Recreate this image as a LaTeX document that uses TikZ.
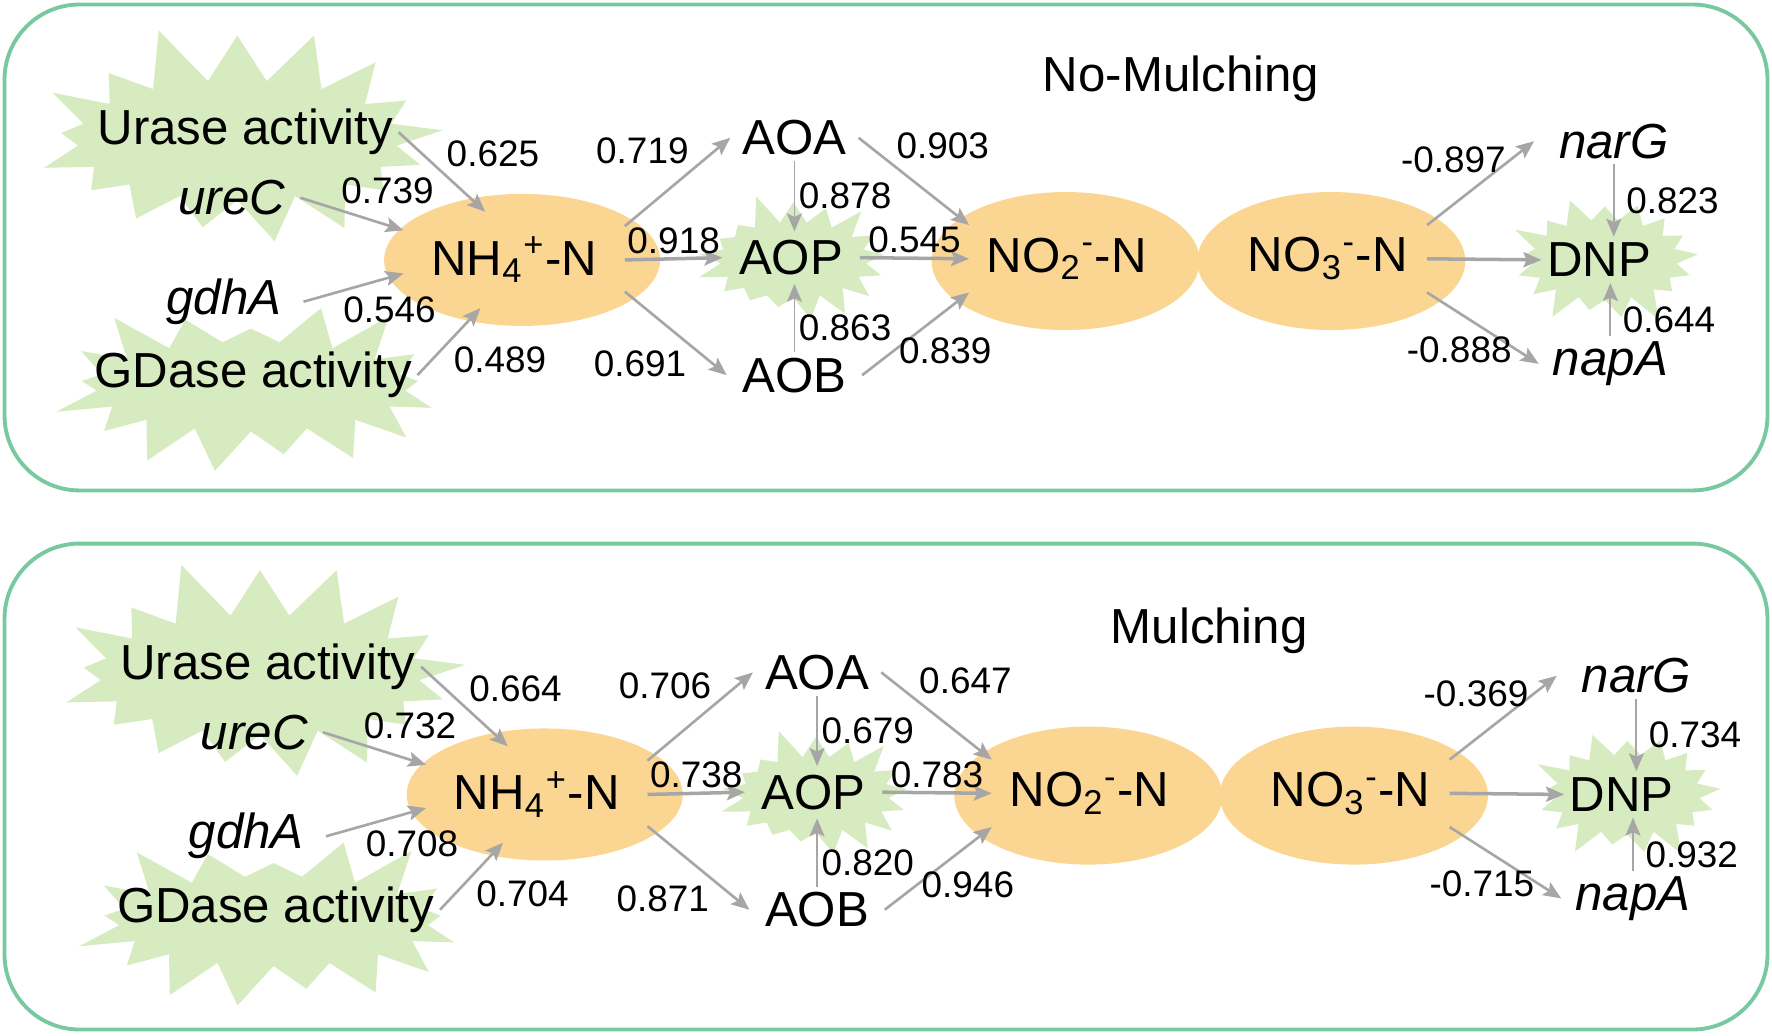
\documentclass[tikz,border=0pt]{standalone}
\usepackage{fontspec}
\setmainfont{Liberation Sans}
\usepackage{tikz}
\usetikzlibrary{arrows.meta,shapes.geometric,shapes.symbols}
\definecolor{nitGreen}{HTML}{D6ECC0}
\definecolor{nitOrange}{HTML}{FBD592}
\definecolor{nitFrame}{HTML}{78C8A0}
\definecolor{nitGrey}{HTML}{A6A6A6}
% shapes and names of one panel; #1 title position, #2 title
\newcommand{\nitronodes}[2]{%
  \node[burst, minimum width=44mm, minimum height=24mm,
        starburst point height=6mm, random starburst=11] (urase-bg) at (210,124) {};
  \node[burst, minimum width=41mm, minimum height=19mm,
        starburst point height=5mm, random starburst=23] (gdase-bg) at (222,342) {};
  \node[burst, minimum width=21mm, minimum height=14mm,
        starburst point height=3.2mm, random starburst=5] (aop-bg) at (702,230) {};
  \node[burst, minimum width=20.5mm, minimum height=14mm,
        starburst point height=3mm, random starburst=9] (dnp-bg) at (1420,230) {};
  \node[oval, minimum width=27.6mm, minimum height=13.2mm] (nh4-bg) at (462,230) {};
  \node[oval, minimum width=26.8mm, minimum height=13.8mm] (no2-bg) at (943,231) {};
  \node[oval, minimum width=26.8mm, minimum height=13.8mm] (no3-bg) at (1178,231) {};
  \node[txt] (title) at (#1) {#2};
  \node[txt] (urase) at (217,117) {Urase activity};
  \node[txt] (gdase) at (224,332) {GDase activity};
  \node[gene, minimum width=13.6mm] (ureC) at (205,175) {ureC};
  \node[gene, minimum width=15.8mm] (gdhA) at (198,267) {gdhA};
  \node[txt, minimum width=22mm, minimum height=9.5mm] (nh4) at (455,230)
    {NH\textsubscript{4}\textsuperscript{+}-N};
  \node[txt, minimum width=12.7mm, minimum height=4mm] (aoa) at (703,122) {AOA};
  \node[txt, minimum width=13.6mm, minimum height=5.1mm] (aop) at (700,228) {AOP};
  \node[txt, minimum width=13.4mm, minimum height=3.8mm] (aob) at (703,332) {AOB};
  \node[txt, minimum width=19.4mm, minimum height=6.6mm] (no2) at (944,229)
    {NO\textsubscript{2}\textsuperscript{-}-N};
  \node[txt, minimum width=19.7mm, minimum height=6.6mm] (no3) at (1175,229)
    {NO\textsubscript{3}\textsuperscript{-}-N};
  \node[txt, minimum width=11.3mm, minimum height=4.5mm] (dnp) at (1415,230) {DNP};
  \node[gene, minimum width=15.8mm, minimum height=4.5mm] (narG) at (1428,125) {narG};
  \node[gene, minimum width=14.2mm, minimum height=3.8mm] (napA) at (1425,322) {napA};
}

\begin{document}
\begin{tikzpicture}[
    x=0.11301mm, y=-0.11301mm,
    >={Stealth[length=1.8mm, width=1.5mm, inset=.35mm]},
    burst/.style={starburst, fill=nitGreen, inner sep=0pt},
    oval/.style={ellipse, fill=nitOrange, inner sep=0pt},
    txt/.style={font=\fontsize{14}{16}\selectfont, inner sep=.5mm},
    gene/.style={txt, font=\fontsize{14}{16}\selectfont\itshape},
    val/.style={font=\fontsize{10.5}{12}\selectfont, inner sep=1pt},
    link/.style={->, draw=nitGrey, line width=.75pt},
    mainlink/.style={link, line width=1pt},
    thinlink/.style={link, line width=.55pt},
    frame/.style={draw=nitFrame, line width=1.1pt, rounded corners=7.5mm},
  ]
  \useasboundingbox (0,0) rectangle (1568,916);

  \draw[frame] (4,4) rectangle (1564,434);
  \draw[frame] (4,481) rectangle (1564,911);

  % no mulching
  \begin{scope}[name prefix=n-]
    \nitronodes{1045,70}{No-Mulching}
    \draw[link] (urase.east) -- (nh4.121) node[val, midway, anchor=south west] (r1) {0.625};
    \draw[link] (ureC.east) -- (nh4.165) node[val, pos=.35, anchor=south west] (r2) {0.739};
    \draw[link] (gdhA.east) -- (nh4.187) node[val, pos=.35, anchor=north west] (r3) {0.546};
    \draw[link] (gdase.east) -- (nh4.235) node[val, midway, anchor=north west] (r4) {0.489};
    \draw[link] (nh4.17) -- (aoa.west) node[val, pos=.65, anchor=south east] (r5) {0.719};
    \draw[mainlink] (nh4.east) -- (aop.west) node[val, midway, above] (r6) {0.918};
    \draw[link] (nh4.-16) -- (aob.west) node[val, pos=.65, anchor=north east] (r7) {0.691};
    \draw[thinlink] (aoa.south) -- (aoa.south |- aop.north) node[val, midway, right] (r8) {0.878};
    \draw[thinlink] (aob.north) -- (aob.north |- aop.south) node[val, pos=.35, right] (r9) {0.863};
    \draw[link] (aoa.east) -- (no2.north west) node[val, pos=.3, anchor=south west] (r10) {0.903};
    \draw[mainlink] (aop.east) -- (no2.west) node[val, midway, above] (r11) {0.545};
    \draw[link] (aob.east) -- (no2.south west) node[val, pos=.3, anchor=west] (r12) {0.839};
    \draw[link] (no3.north east) -- (narG.west) node[val, pos=.78, anchor=east] (r13) {-0.897};
    \draw[mainlink] (no3.east) -- (dnp.west);
    \draw[link] (no3.south east) -- (napA.west) node[val, pos=.8, anchor=east] (r14) {-0.888};
    \draw[thinlink] (narG.south) -- (narG.south |- dnp.north) node[val, midway, right=.8mm] (r15) {0.823};
    \draw[thinlink] (napA.north) -- (napA.north |- dnp.south) node[val, pos=.3, right=.8mm] (r16) {0.644};
  \end{scope}

  % mulching
  \begin{scope}[shift={(20,473)}, name prefix=m-]
    \nitronodes{1050,85}{Mulching}
    \draw[link] (urase.east) -- (nh4.121) node[val, midway, anchor=south west] (r1) {0.664};
    \draw[link] (ureC.east) -- (nh4.165) node[val, pos=.35, anchor=south west] (r2) {0.732};
    \draw[link] (gdhA.east) -- (nh4.187) node[val, pos=.35, anchor=north west] (r3) {0.708};
    \draw[link] (gdase.east) -- (nh4.235) node[val, midway, anchor=north west] (r4) {0.704};
    \draw[link] (nh4.17) -- (aoa.west) node[val, pos=.65, anchor=south east] (r5) {0.706};
    \draw[mainlink] (nh4.east) -- (aop.west) node[val, midway, above] (r6) {0.738};
    \draw[link] (nh4.-16) -- (aob.west) node[val, pos=.65, anchor=north east] (r7) {0.871};
    \draw[thinlink] (aoa.south) -- (aoa.south |- aop.north) node[val, midway, right] (r8) {0.679};
    \draw[thinlink] (aob.north) -- (aob.north |- aop.south) node[val, pos=.35, right] (r9) {0.820};
    \draw[link] (aoa.east) -- (no2.north west) node[val, pos=.3, anchor=south west] (r10) {0.647};
    \draw[mainlink] (aop.east) -- (no2.west) node[val, midway, above] (r11) {0.783};
    \draw[link] (aob.east) -- (no2.south west) node[val, pos=.3, anchor=west] (r12) {0.946};
    \draw[link] (no3.north east) -- (narG.west) node[val, pos=.78, anchor=east] (r13) {-0.369};
    \draw[mainlink] (no3.east) -- (dnp.west);
    \draw[link] (no3.south east) -- (napA.west) node[val, pos=.8, anchor=east] (r14) {-0.715};
    \draw[thinlink] (narG.south) -- (narG.south |- dnp.north) node[val, midway, right=.8mm] (r15) {0.734};
    \draw[thinlink] (napA.north) -- (napA.north |- dnp.south) node[val, pos=.3, right=.8mm] (r16) {0.932};
  \end{scope}

\end{tikzpicture}
\end{document}
